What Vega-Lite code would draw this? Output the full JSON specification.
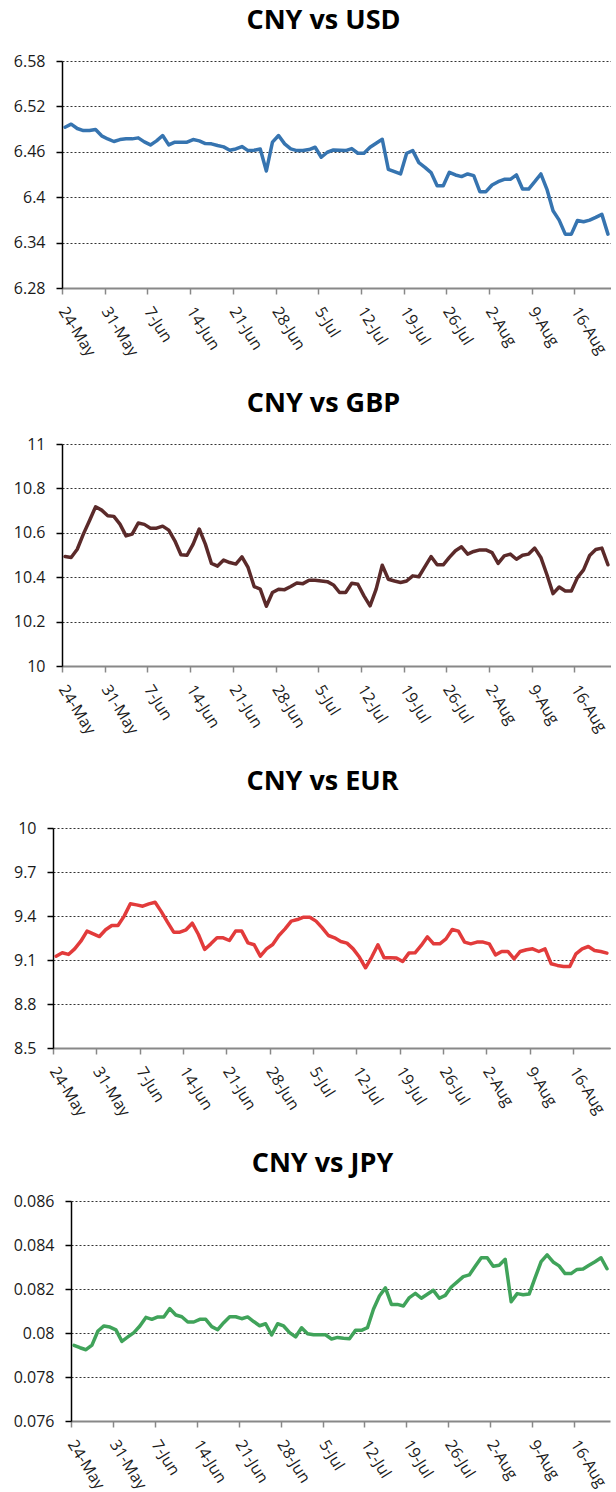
{
  "$schema": "https://vega.github.io/schema/vega-lite/v6.json",
  "padding": {"left": 12, "top": 7, "right": 0, "bottom": 0},
  "datasets": {
    "fx": [
      {"date": "2011-05-24T12:00:00", "USD": 6.4925, "GBP": 10.493, "EUR": 9.126, "JPY": 0.07944},
      {"date": "2011-05-25T12:00:00", "USD": 6.4965, "GBP": 10.489, "EUR": 9.149, "JPY": 0.07933},
      {"date": "2011-05-26T12:00:00", "USD": 6.4908, "GBP": 10.526, "EUR": 9.138, "JPY": 0.07924},
      {"date": "2011-05-27T12:00:00", "USD": 6.4881, "GBP": 10.594, "EUR": 9.176, "JPY": 0.07945},
      {"date": "2011-05-28T12:00:00", "USD": 6.4881, "GBP": 10.654, "EUR": 9.228, "JPY": 0.08009},
      {"date": "2011-05-29T12:00:00", "USD": 6.4895, "GBP": 10.717, "EUR": 9.297, "JPY": 0.08032},
      {"date": "2011-05-30T12:00:00", "USD": 6.4811, "GBP": 10.702, "EUR": 9.278, "JPY": 0.08027},
      {"date": "2011-05-31T12:00:00", "USD": 6.477, "GBP": 10.677, "EUR": 9.26, "JPY": 0.08014},
      {"date": "2011-06-01T12:00:00", "USD": 6.4736, "GBP": 10.674, "EUR": 9.306, "JPY": 0.07962},
      {"date": "2011-06-02T12:00:00", "USD": 6.4762, "GBP": 10.639, "EUR": 9.335, "JPY": 0.07982},
      {"date": "2011-06-03T12:00:00", "USD": 6.4771, "GBP": 10.586, "EUR": 9.335, "JPY": 0.08002},
      {"date": "2011-06-04T12:00:00", "USD": 6.4771, "GBP": 10.594, "EUR": 9.399, "JPY": 0.08032},
      {"date": "2011-06-05T12:00:00", "USD": 6.4784, "GBP": 10.644, "EUR": 9.483, "JPY": 0.08071},
      {"date": "2011-06-06T12:00:00", "USD": 6.4731, "GBP": 10.638, "EUR": 9.476, "JPY": 0.08062},
      {"date": "2011-06-07T12:00:00", "USD": 6.4691, "GBP": 10.621, "EUR": 9.467, "JPY": 0.08073},
      {"date": "2011-06-08T12:00:00", "USD": 6.4744, "GBP": 10.621, "EUR": 9.483, "JPY": 0.08073},
      {"date": "2011-06-09T12:00:00", "USD": 6.4815, "GBP": 10.63, "EUR": 9.494, "JPY": 0.08111},
      {"date": "2011-06-10T12:00:00", "USD": 6.4691, "GBP": 10.612, "EUR": 9.43, "JPY": 0.08082},
      {"date": "2011-06-11T12:00:00", "USD": 6.4727, "GBP": 10.564, "EUR": 9.358, "JPY": 0.08074},
      {"date": "2011-06-12T12:00:00", "USD": 6.4727, "GBP": 10.501, "EUR": 9.29, "JPY": 0.0805},
      {"date": "2011-06-13T12:00:00", "USD": 6.4727, "GBP": 10.499, "EUR": 9.29, "JPY": 0.0805},
      {"date": "2011-06-14T12:00:00", "USD": 6.4762, "GBP": 10.549, "EUR": 9.306, "JPY": 0.08062},
      {"date": "2011-06-15T12:00:00", "USD": 6.4744, "GBP": 10.617, "EUR": 9.351, "JPY": 0.08062},
      {"date": "2011-06-16T12:00:00", "USD": 6.4709, "GBP": 10.549, "EUR": 9.274, "JPY": 0.08029},
      {"date": "2011-06-17T12:00:00", "USD": 6.4705, "GBP": 10.462, "EUR": 9.172, "JPY": 0.08015},
      {"date": "2011-06-18T12:00:00", "USD": 6.4683, "GBP": 10.45, "EUR": 9.21, "JPY": 0.08047},
      {"date": "2011-06-19T12:00:00", "USD": 6.4665, "GBP": 10.477, "EUR": 9.251, "JPY": 0.08074},
      {"date": "2011-06-20T12:00:00", "USD": 6.4621, "GBP": 10.466, "EUR": 9.251, "JPY": 0.08074},
      {"date": "2011-06-21T12:00:00", "USD": 6.4638, "GBP": 10.459, "EUR": 9.233, "JPY": 0.08065},
      {"date": "2011-06-22T12:00:00", "USD": 6.4669, "GBP": 10.492, "EUR": 9.297, "JPY": 0.08073},
      {"date": "2011-06-23T12:00:00", "USD": 6.4616, "GBP": 10.444, "EUR": 9.297, "JPY": 0.08052},
      {"date": "2011-06-24T12:00:00", "USD": 6.4621, "GBP": 10.358, "EUR": 9.217, "JPY": 0.08033},
      {"date": "2011-06-25T12:00:00", "USD": 6.4638, "GBP": 10.346, "EUR": 9.204, "JPY": 0.08042},
      {"date": "2011-06-26T12:00:00", "USD": 6.4347, "GBP": 10.269, "EUR": 9.126, "JPY": 0.07991},
      {"date": "2011-06-27T12:00:00", "USD": 6.4727, "GBP": 10.331, "EUR": 9.176, "JPY": 0.08042},
      {"date": "2011-06-28T12:00:00", "USD": 6.4815, "GBP": 10.346, "EUR": 9.206, "JPY": 0.08032},
      {"date": "2011-06-29T12:00:00", "USD": 6.4705, "GBP": 10.344, "EUR": 9.267, "JPY": 0.08002},
      {"date": "2011-06-30T12:00:00", "USD": 6.4638, "GBP": 10.358, "EUR": 9.312, "JPY": 0.07982},
      {"date": "2011-07-01T12:00:00", "USD": 6.4616, "GBP": 10.374, "EUR": 9.365, "JPY": 0.08024},
      {"date": "2011-07-02T12:00:00", "USD": 6.4616, "GBP": 10.371, "EUR": 9.376, "JPY": 0.07997},
      {"date": "2011-07-03T12:00:00", "USD": 6.463, "GBP": 10.386, "EUR": 9.392, "JPY": 0.07992},
      {"date": "2011-07-04T12:00:00", "USD": 6.466, "GBP": 10.386, "EUR": 9.392, "JPY": 0.07992},
      {"date": "2011-07-05T12:00:00", "USD": 6.4528, "GBP": 10.383, "EUR": 9.365, "JPY": 0.07992},
      {"date": "2011-07-06T12:00:00", "USD": 6.4594, "GBP": 10.38, "EUR": 9.319, "JPY": 0.07973},
      {"date": "2011-07-07T12:00:00", "USD": 6.4625, "GBP": 10.365, "EUR": 9.267, "JPY": 0.0798},
      {"date": "2011-07-08T12:00:00", "USD": 6.462, "GBP": 10.331, "EUR": 9.251, "JPY": 0.07976},
      {"date": "2011-07-09T12:00:00", "USD": 6.4616, "GBP": 10.331, "EUR": 9.226, "JPY": 0.07974},
      {"date": "2011-07-10T12:00:00", "USD": 6.4643, "GBP": 10.373, "EUR": 9.215, "JPY": 0.08012},
      {"date": "2011-07-11T12:00:00", "USD": 6.4581, "GBP": 10.368, "EUR": 9.176, "JPY": 0.08012},
      {"date": "2011-07-12T12:00:00", "USD": 6.4581, "GBP": 10.316, "EUR": 9.12, "JPY": 0.08024},
      {"date": "2011-07-13T12:00:00", "USD": 6.466, "GBP": 10.271, "EUR": 9.047, "JPY": 0.08108},
      {"date": "2011-07-14T12:00:00", "USD": 6.4713, "GBP": 10.346, "EUR": 9.12, "JPY": 0.08168},
      {"date": "2011-07-15T12:00:00", "USD": 6.4766, "GBP": 10.454, "EUR": 9.204, "JPY": 0.08205},
      {"date": "2011-07-16T12:00:00", "USD": 6.4369, "GBP": 10.391, "EUR": 9.115, "JPY": 0.0813},
      {"date": "2011-07-17T12:00:00", "USD": 6.4338, "GBP": 10.383, "EUR": 9.115, "JPY": 0.0813},
      {"date": "2011-07-18T12:00:00", "USD": 6.4307, "GBP": 10.376, "EUR": 9.113, "JPY": 0.08123},
      {"date": "2011-07-19T12:00:00", "USD": 6.4581, "GBP": 10.383, "EUR": 9.09, "JPY": 0.08161},
      {"date": "2011-07-20T12:00:00", "USD": 6.4616, "GBP": 10.406, "EUR": 9.147, "JPY": 0.0818},
      {"date": "2011-07-21T12:00:00", "USD": 6.4457, "GBP": 10.402, "EUR": 9.149, "JPY": 0.08158},
      {"date": "2011-07-22T12:00:00", "USD": 6.4395, "GBP": 10.448, "EUR": 9.199, "JPY": 0.08176},
      {"date": "2011-07-23T12:00:00", "USD": 6.4325, "GBP": 10.493, "EUR": 9.258, "JPY": 0.08194},
      {"date": "2011-07-24T12:00:00", "USD": 6.4152, "GBP": 10.456, "EUR": 9.21, "JPY": 0.08158},
      {"date": "2011-07-25T12:00:00", "USD": 6.4152, "GBP": 10.456, "EUR": 9.21, "JPY": 0.08171},
      {"date": "2011-07-26T12:00:00", "USD": 6.4329, "GBP": 10.489, "EUR": 9.244, "JPY": 0.08209},
      {"date": "2011-07-27T12:00:00", "USD": 6.4294, "GBP": 10.519, "EUR": 9.308, "JPY": 0.08232},
      {"date": "2011-07-28T12:00:00", "USD": 6.4272, "GBP": 10.537, "EUR": 9.297, "JPY": 0.08256},
      {"date": "2011-07-29T12:00:00", "USD": 6.4307, "GBP": 10.504, "EUR": 9.222, "JPY": 0.08264},
      {"date": "2011-07-30T12:00:00", "USD": 6.4285, "GBP": 10.516, "EUR": 9.21, "JPY": 0.08303},
      {"date": "2011-07-31T12:00:00", "USD": 6.4073, "GBP": 10.523, "EUR": 9.222, "JPY": 0.08342},
      {"date": "2011-08-01T12:00:00", "USD": 6.4073, "GBP": 10.523, "EUR": 9.222, "JPY": 0.08342},
      {"date": "2011-08-02T12:00:00", "USD": 6.4161, "GBP": 10.511, "EUR": 9.21, "JPY": 0.08303},
      {"date": "2011-08-03T12:00:00", "USD": 6.4205, "GBP": 10.462, "EUR": 9.135, "JPY": 0.08308},
      {"date": "2011-08-04T12:00:00", "USD": 6.4236, "GBP": 10.496, "EUR": 9.158, "JPY": 0.08335},
      {"date": "2011-08-05T12:00:00", "USD": 6.4236, "GBP": 10.504, "EUR": 9.158, "JPY": 0.08142},
      {"date": "2011-08-06T12:00:00", "USD": 6.4294, "GBP": 10.481, "EUR": 9.108, "JPY": 0.08179},
      {"date": "2011-08-07T12:00:00", "USD": 6.4108, "GBP": 10.499, "EUR": 9.158, "JPY": 0.08174},
      {"date": "2011-08-08T12:00:00", "USD": 6.4108, "GBP": 10.504, "EUR": 9.17, "JPY": 0.08177},
      {"date": "2011-08-09T12:00:00", "USD": 6.4205, "GBP": 10.531, "EUR": 9.176, "JPY": 0.08252},
      {"date": "2011-08-10T12:00:00", "USD": 6.4307, "GBP": 10.489, "EUR": 9.158, "JPY": 0.08324},
      {"date": "2011-08-11T12:00:00", "USD": 6.4104, "GBP": 10.411, "EUR": 9.176, "JPY": 0.08355},
      {"date": "2011-08-12T12:00:00", "USD": 6.3821, "GBP": 10.326, "EUR": 9.074, "JPY": 0.08323},
      {"date": "2011-08-13T12:00:00", "USD": 6.3697, "GBP": 10.356, "EUR": 9.063, "JPY": 0.08305},
      {"date": "2011-08-14T12:00:00", "USD": 6.3512, "GBP": 10.338, "EUR": 9.056, "JPY": 0.0827},
      {"date": "2011-08-15T12:00:00", "USD": 6.3512, "GBP": 10.338, "EUR": 9.056, "JPY": 0.0827},
      {"date": "2011-08-16T12:00:00", "USD": 6.3693, "GBP": 10.398, "EUR": 9.142, "JPY": 0.08289},
      {"date": "2011-08-17T12:00:00", "USD": 6.3675, "GBP": 10.433, "EUR": 9.176, "JPY": 0.08291},
      {"date": "2011-08-18T12:00:00", "USD": 6.3697, "GBP": 10.498, "EUR": 9.192, "JPY": 0.08308},
      {"date": "2011-08-19T12:00:00", "USD": 6.3733, "GBP": 10.525, "EUR": 9.165, "JPY": 0.08324},
      {"date": "2011-08-20T12:00:00", "USD": 6.3773, "GBP": 10.531, "EUR": 9.158, "JPY": 0.08342},
      {"date": "2011-08-21T12:00:00", "USD": 6.3512, "GBP": 10.456, "EUR": 9.147, "JPY": 0.08292}
    ],
    "blank": [{"k": 0}]
  },
  "config": {
    "view": {"stroke": null},
    "font": "Open Sans",
    "axis": {
      "labelFont": "Open Sans",
      "labelFontSize": 16,
      "labelColor": "#1a1a1a",
      "tickSize": 6,
      "domainColor": "#000000",
      "tickColor": "#000000",
      "title": null
    },
    "axisY": {
      "grid": true,
      "gridColor": "#333333",
      "gridDash": [2, 2],
      "gridWidth": 1,
      "labelPadding": 11,
      "domainWidth": 1.5,
      "tickWidth": 1.5
    },
    "axisX": {
      "grid": false,
      "domainColor": "#888888",
      "tickColor": "#888888",
      "domainWidth": 2,
      "tickWidth": 1.5,
      "labelAngle": 58,
      "labelAlign": "left",
      "labelBaseline": "middle",
      "labelPadding": 14,
      "labelOverlap": false,
      "labelBound": false,
      "labelFlush": false
    },
    "title": {
      "fontSize": 27,
      "fontWeight": "bold",
      "font": "Open Sans",
      "color": "#000000",
      "anchor": "middle",
      "baseline": "alphabetic",
      "offset": 18
    },
    "line": {"strokeWidth": 3.5, "strokeJoin": "round", "strokeCap": "round"}
  },
  "spacing": 31,
  "vconcat": [
    {"spacing": 0, "hconcat": [
    {"width": 1, "height": 1, "data": {"name": "blank"}, "mark": {"type": "point", "opacity": 0, "size": 1}, "encoding": {}},
    {
      "width": 549,
      "height": 227,
      "title": {"text": "CNY vs USD", "dx": -13},
      "data": {"name": "fx"},
      "mark": {"type": "line", "color": "#3674b0"},
      "encoding": {
        "x": {
          "field": "date", "type": "temporal",
          "scale": {"domain": [{"year": 2011, "month": 5, "date": 24}, {"year": 2011, "month": 8, "date": 22}]},
          "axis": {"format": "%-d-%b", "values": [
            {"year": 2011, "month": 5, "date": 24}, {"year": 2011, "month": 5, "date": 31},
            {"year": 2011, "month": 6, "date": 7}, {"year": 2011, "month": 6, "date": 14},
            {"year": 2011, "month": 6, "date": 21}, {"year": 2011, "month": 6, "date": 28},
            {"year": 2011, "month": 7, "date": 5}, {"year": 2011, "month": 7, "date": 12},
            {"year": 2011, "month": 7, "date": 19}, {"year": 2011, "month": 7, "date": 26},
            {"year": 2011, "month": 8, "date": 2}, {"year": 2011, "month": 8, "date": 9},
            {"year": 2011, "month": 8, "date": 16}]}
        },
        "y": {
          "field": "USD", "type": "quantitative",
          "scale": {"domain": [6.28, 6.58], "nice": false, "zero": false},
          "axis": {"values": [6.28, 6.34, 6.4, 6.46, 6.52, 6.58], "format": ".4~g"}
        }
      }
    }]},
    {"spacing": 0, "hconcat": [
    {"width": 1, "height": 1, "data": {"name": "blank"}, "mark": {"type": "point", "opacity": 0, "size": 1}, "encoding": {}},
    {
      "width": 549,
      "height": 222,
      "title": {"text": "CNY vs GBP", "dx": -13},
      "data": {"name": "fx"},
      "mark": {"type": "line", "color": "#5b2a2a"},
      "encoding": {
        "x": {
          "field": "date", "type": "temporal",
          "scale": {"domain": [{"year": 2011, "month": 5, "date": 24}, {"year": 2011, "month": 8, "date": 22}]},
          "axis": {"format": "%-d-%b", "values": [
            {"year": 2011, "month": 5, "date": 24}, {"year": 2011, "month": 5, "date": 31},
            {"year": 2011, "month": 6, "date": 7}, {"year": 2011, "month": 6, "date": 14},
            {"year": 2011, "month": 6, "date": 21}, {"year": 2011, "month": 6, "date": 28},
            {"year": 2011, "month": 7, "date": 5}, {"year": 2011, "month": 7, "date": 12},
            {"year": 2011, "month": 7, "date": 19}, {"year": 2011, "month": 7, "date": 26},
            {"year": 2011, "month": 8, "date": 2}, {"year": 2011, "month": 8, "date": 9},
            {"year": 2011, "month": 8, "date": 16}]}
        },
        "y": {
          "field": "GBP", "type": "quantitative",
          "scale": {"domain": [10, 11], "nice": false, "zero": false},
          "axis": {"values": [10, 10.2, 10.4, 10.6, 10.8, 11], "format": ".4~g"}
        }
      }
    }]},
    {"spacing": 0, "hconcat": [
    {"width": 1, "height": 1, "data": {"name": "blank"}, "mark": {"type": "point", "opacity": 0, "size": 1}, "encoding": {}},
    {
      "width": 557,
      "height": 220,
      "title": {"text": "CNY vs EUR", "dx": -9, "offset": 24},
      "data": {"name": "fx"},
      "mark": {"type": "line", "color": "#e23b3b"},
      "encoding": {
        "x": {
          "field": "date", "type": "temporal",
          "scale": {"domain": [{"year": 2011, "month": 5, "date": 24}, {"year": 2011, "month": 8, "date": 22}]},
          "axis": {"format": "%-d-%b", "values": [
            {"year": 2011, "month": 5, "date": 24}, {"year": 2011, "month": 5, "date": 31},
            {"year": 2011, "month": 6, "date": 7}, {"year": 2011, "month": 6, "date": 14},
            {"year": 2011, "month": 6, "date": 21}, {"year": 2011, "month": 6, "date": 28},
            {"year": 2011, "month": 7, "date": 5}, {"year": 2011, "month": 7, "date": 12},
            {"year": 2011, "month": 7, "date": 19}, {"year": 2011, "month": 7, "date": 26},
            {"year": 2011, "month": 8, "date": 2}, {"year": 2011, "month": 8, "date": 9},
            {"year": 2011, "month": 8, "date": 16}]}
        },
        "y": {
          "field": "EUR", "type": "quantitative",
          "scale": {"domain": [8.5, 10], "nice": false, "zero": false},
          "axis": {"values": [8.5, 8.8, 9.1, 9.4, 9.7, 10], "format": ".4~g"}
        }
      }
    }]},
    {"spacing": 0, "hconcat": [
    {"width": 1, "height": 1, "data": {"name": "blank"}, "mark": {"type": "point", "opacity": 0, "size": 1}, "encoding": {}},
    {
      "width": 539,
      "height": 220,
      "title": {"text": "CNY vs JPY", "dx": -18, "offset": 15},
      "data": {"name": "fx"},
      "mark": {"type": "line", "color": "#40a35a"},
      "encoding": {
        "x": {
          "field": "date", "type": "temporal",
          "scale": {"domain": [{"year": 2011, "month": 5, "date": 24}, {"year": 2011, "month": 8, "date": 22}]},
          "axis": {"format": "%-d-%b", "values": [
            {"year": 2011, "month": 5, "date": 24}, {"year": 2011, "month": 5, "date": 31},
            {"year": 2011, "month": 6, "date": 7}, {"year": 2011, "month": 6, "date": 14},
            {"year": 2011, "month": 6, "date": 21}, {"year": 2011, "month": 6, "date": 28},
            {"year": 2011, "month": 7, "date": 5}, {"year": 2011, "month": 7, "date": 12},
            {"year": 2011, "month": 7, "date": 19}, {"year": 2011, "month": 7, "date": 26},
            {"year": 2011, "month": 8, "date": 2}, {"year": 2011, "month": 8, "date": 9},
            {"year": 2011, "month": 8, "date": 16}]}
        },
        "y": {
          "field": "JPY", "type": "quantitative",
          "scale": {"domain": [0.076, 0.086], "nice": false, "zero": false},
          "axis": {"values": [0.076, 0.078, 0.08, 0.082, 0.084, 0.086], "format": ".4~g"}
        }
      }
    }]}
  ]
}
